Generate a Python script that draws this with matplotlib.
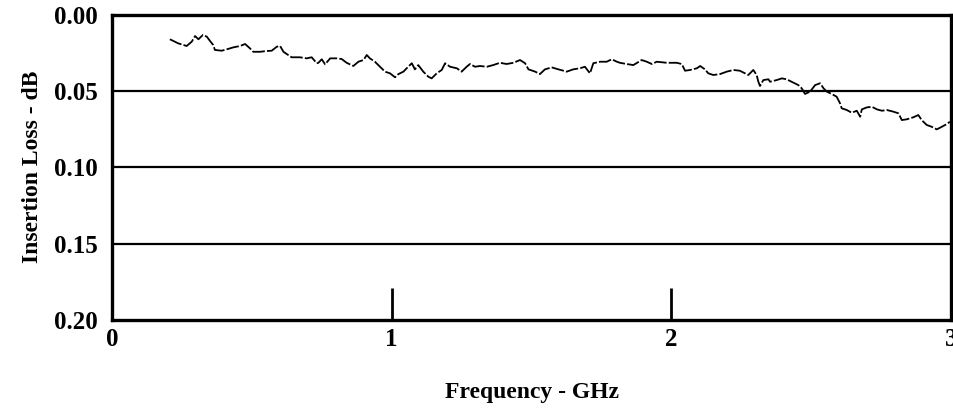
import matplotlib
matplotlib.use("Agg")
import matplotlib.pyplot as plt

# Insertion loss trace (GHz, dB)
freq_ghz = [0.207, 0.237, 0.267, 0.285, 0.297, 0.309, 0.325, 0.339, 0.350, 0.362,
            0.368, 0.392, 0.410, 0.434, 0.458, 0.476, 0.493, 0.505, 0.529, 0.553,
            0.571, 0.589, 0.601, 0.613, 0.630, 0.642, 0.672, 0.696, 0.714, 0.732,
            0.738, 0.750, 0.762, 0.780, 0.803, 0.821, 0.839, 0.863, 0.881, 0.899,
            0.911, 0.922, 0.940, 0.958, 0.976, 0.994, 1.012, 1.024, 1.042, 1.059,
            1.072, 1.083, 1.095, 1.113, 1.131, 1.143, 1.161, 1.179, 1.191, 1.209,
            1.233, 1.250, 1.268, 1.280, 1.298, 1.316, 1.340, 1.363, 1.387, 1.411,
            1.435, 1.459, 1.477, 1.489, 1.513, 1.530, 1.548, 1.572, 1.596, 1.626,
            1.649, 1.673, 1.691, 1.709, 1.721, 1.745, 1.769, 1.787, 1.805, 1.816,
            1.840, 1.864, 1.894, 1.912, 1.930, 1.948, 1.983, 2.019, 2.037, 2.049,
            2.067, 2.091, 2.103, 2.120, 2.132, 2.150, 2.174, 2.198, 2.222, 2.245,
            2.263, 2.275, 2.293, 2.305, 2.311, 2.317, 2.329, 2.347, 2.353, 2.377,
            2.395, 2.412, 2.436, 2.454, 2.466, 2.478, 2.496, 2.514, 2.532, 2.544,
            2.556, 2.573, 2.591, 2.603, 2.609, 2.627, 2.645, 2.663, 2.675, 2.681,
            2.699, 2.717, 2.735, 2.753, 2.770, 2.794, 2.812, 2.824, 2.842, 2.865,
            2.883, 2.895, 2.913, 2.931, 2.949, 2.967, 2.985, 2.996]
loss_db = [0.0162, 0.0189, 0.0206, 0.0178, 0.0141, 0.0162, 0.0134, 0.0145, 0.0172, 0.0200,
           0.0232, 0.0237, 0.0228, 0.0215, 0.0206, 0.0193, 0.0221, 0.0244, 0.0244, 0.0239,
           0.0237, 0.0211, 0.0206, 0.0244, 0.0265, 0.0280, 0.0280, 0.0287, 0.0280, 0.0319,
           0.0316, 0.0293, 0.0326, 0.0287, 0.0287, 0.0291, 0.0316, 0.0337, 0.0309, 0.0298,
           0.0265, 0.0287, 0.0309, 0.0342, 0.0374, 0.0385, 0.0411, 0.0390, 0.0374, 0.0342,
           0.0319, 0.0359, 0.0331, 0.0374, 0.0407, 0.0418, 0.0385, 0.0363, 0.0319, 0.0342,
           0.0352, 0.0374, 0.0342, 0.0324, 0.0342, 0.0337, 0.0342, 0.0331, 0.0316, 0.0324,
           0.0316, 0.0298, 0.0319, 0.0359, 0.0374, 0.0390, 0.0359, 0.0346, 0.0359, 0.0374,
           0.0359, 0.0352, 0.0342, 0.0385, 0.0319, 0.0309, 0.0309, 0.0293, 0.0309, 0.0316,
           0.0324, 0.0331, 0.0298, 0.0309, 0.0324, 0.0309, 0.0316, 0.0316, 0.0324, 0.0368,
           0.0363, 0.0352, 0.0337, 0.0359, 0.0385, 0.0396, 0.0390, 0.0374, 0.0363, 0.0368,
           0.0385, 0.0396, 0.0363, 0.0396, 0.0440, 0.0468, 0.0429, 0.0424, 0.0440, 0.0429,
           0.0418, 0.0424, 0.0446, 0.0462, 0.0483, 0.0520, 0.0505, 0.0462, 0.0450, 0.0483,
           0.0505, 0.0520, 0.0538, 0.0581, 0.0614, 0.0625, 0.0643, 0.0630, 0.0669, 0.0621,
           0.0608, 0.0604, 0.0621, 0.0630, 0.0625, 0.0636, 0.0647, 0.0691, 0.0686, 0.0673,
           0.0658, 0.0691, 0.0723, 0.0735, 0.0752, 0.0735, 0.0717, 0.0702]

x_ticks = [0, 1, 2, 3]
y_ticks = [0.00, 0.05, 0.10, 0.15, 0.20]
y_ticklabels = ["0.00", "0.05", "0.10", "0.15", "0.20"]

font = "Liberation Serif"

fig = plt.figure(figsize=(9.54, 4.09), dpi=100)
ax = fig.add_axes([0.1174, 0.2176, 0.8795, 0.7469])

ax.plot(freq_ghz, loss_db, color="black", lw=1.3, linestyle=(0, (7, 1.2)))

# horizontal reference lines
for yv in y_ticks[1:-1]:
    ax.axhline(yv, color="black", lw=1.6)

ax.set_xlim(0, 3)
ax.set_ylim(0.20, 0.00)

ax.set_xticks(x_ticks)
ax.set_xticklabels([str(t) for t in x_ticks], fontfamily=font, fontweight="bold", fontsize=18)
ax.set_yticks(y_ticks)
ax.set_yticklabels(y_ticklabels, fontfamily=font, fontweight="bold", fontsize=18)

ax.tick_params(axis="x", direction="in", length=23, width=2.0, pad=6)
ax.tick_params(axis="y", length=0, pad=10)

for sp in ax.spines.values():
    sp.set_linewidth(2.4)
    sp.set_color("black")

ax.set_xlabel("Frequency - GHz", fontfamily=font, fontweight="bold", fontsize=17, labelpad=22)
ax.set_ylabel("Insertion Loss - dB", fontfamily=font, fontweight="bold", fontsize=17, labelpad=8)

fig.savefig("out.png", dpi=100)
